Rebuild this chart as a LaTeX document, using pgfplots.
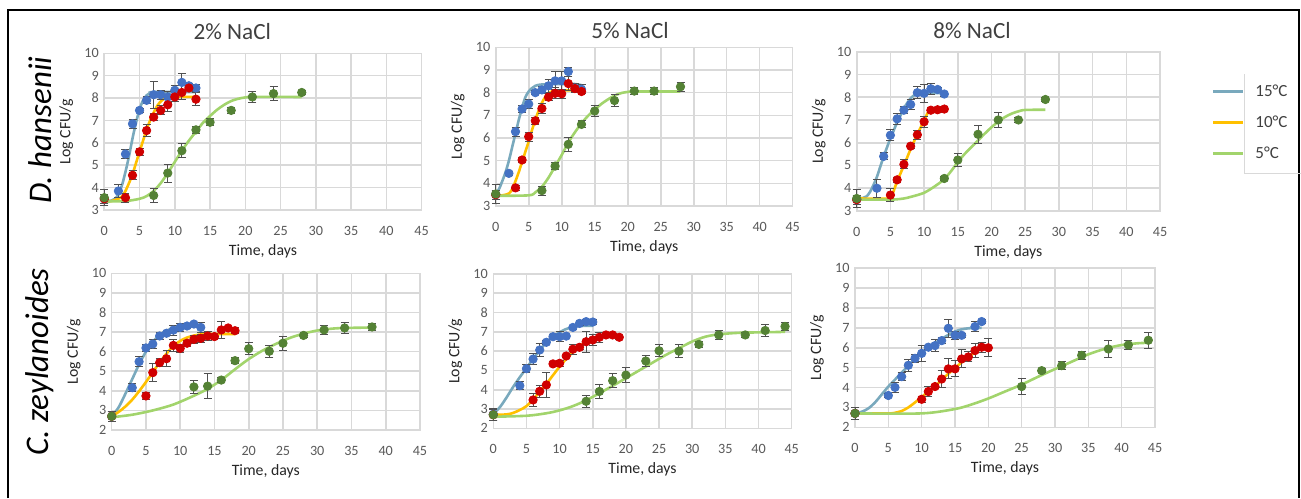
\documentclass[border=0pt]{standalone}
\usepackage{fontspec}
\setmainfont{Carlito}
\usepackage{pgfplots}
\pgfplotsset{compat=1.18}
\definecolor{cB}{HTML}{4472C4}
\definecolor{cR}{HTML}{D00000}
\definecolor{cG}{HTML}{548235}
\definecolor{f15}{HTML}{79A9BD}
\definecolor{f10}{HTML}{FFC000}
\definecolor{f5}{HTML}{A2D46C}
\definecolor{gridc}{HTML}{D9D9D9}
\definecolor{tickc}{HTML}{595959}
\definecolor{labc}{HTML}{404040}
\definecolor{axlab}{HTML}{262626}
\definecolor{errc}{HTML}{505050}
\pgfplotsset{
 panel/.style={scale only axis, anchor=south west, xmin=0, xmax=45, xtick={0,5,...,45},
  ytick distance=1, grid=major, major grid style={draw=gridc, line width=0.8pt},
  axis line style={draw=gridc, line width=0.8pt}, tick style={draw=none},
  ticklabel style={font=\fontsize{7.1}{8}\selectfont, text=tickc},
  /pgf/number format/assume math mode=true,
  xticklabel style={yshift=-4.5pt}, yticklabel style={xshift=0.8pt},
  xlabel={Time, days}, ylabel={Log CFU/g},
  label style={font=\fontsize{7.9}{9}\selectfont, text=axlab},
  x label style={at={(axis description cs:0.5,0)}, anchor=center, yshift=-20.5pt},
  y label style={at={(axis description cs:0,0.5)}, anchor=center, yshift=19pt},
  clip=false},
 fit/.style={no markers, smooth, line width=1.3pt},
 dat/.style={only marks, mark=*, mark size=2.1pt,
  error bars/y dir=both, error bars/y explicit,
  error bars/error bar style={line width=0.5pt, draw=errc},
  error bars/error mark options={rotate=90, mark size=2pt, line width=0.5pt, draw=errc}},
}
\begin{document}
\begin{tikzpicture}
\path[use as bounding box] (0,0) rectangle (650.5pt,-249pt);
\draw[line width=0.75pt] (4pt,-249pt) -- (4pt,-5pt) -- (649.5pt,-5pt) -- (649.5pt,-249pt);
% titles
\node[font=\fontsize{11.6}{13}\selectfont, text=labc] at (116.15pt,-15.85pt) {2\% NaCl};
\node[font=\fontsize{11.6}{13}\selectfont, text=labc] at (315pt,-15.35pt) {5\% NaCl};
\node[font=\fontsize{11.6}{13}\selectfont, text=labc] at (486pt,-15.35pt) {8\% NaCl};
% row labels
\node[rotate=90, font=\fontsize{16.5}{19}\selectfont\itshape] at (20pt,-65pt) {D. hansenii};
\node[rotate=90, font=\fontsize{16.5}{19}\selectfont\itshape] at (20pt,-181pt) {C. zeylanoides};
% legend
\draw[gridc, line width=0.5pt] (622pt,-37pt) -- (622pt,-86.5pt) -- (650.5pt,-86.5pt);
\draw[f15, line width=1.5pt] (606.5pt,-45.5pt) -- (621.5pt,-45.5pt);
\draw[f10, line width=1.5pt] (606.5pt,-61pt) -- (621.5pt,-61pt);
\draw[f5, line width=1.5pt] (606.5pt,-76.5pt) -- (621.5pt,-76.5pt);
\node[anchor=west, font=\fontsize{8.5}{10}\selectfont, text=labc, inner sep=0pt] at (627.5pt,-45.5pt) {15°C};
\node[anchor=west, font=\fontsize{8.5}{10}\selectfont, text=labc, inner sep=0pt] at (627.5pt,-61pt) {10°C};
\node[anchor=west, font=\fontsize{8.5}{10}\selectfont, text=labc, inner sep=0pt] at (627.5pt,-76.5pt) {5°C};

% ---------- Panel 1: D. hansenii 2% ----------
\begin{axis}[panel, at={(52.15pt,-105pt)}, width=158.65pt, height=78.35pt, ymin=3, ymax=10]
\addplot[fit, f15] coordinates {(0,3.4) (1,3.42) (1.5,3.5) (2,3.7) (2.5,4.1) (3,4.7) (3.5,5.4) (4,6.2) (4.5,6.9) (5,7.5) (5.5,7.9) (6,8.12) (6.5,8.22) (7,8.27) (13,8.27)};
\addplot[fit, f10] coordinates {(0,3.4) (1,3.4) (2,3.5) (2.5,3.6) (3,3.85) (3.5,4.2) (4,4.6) (4.5,5.1) (5,5.6) (5.5,6.1) (6,6.6) (6.5,7.0) (7,7.35) (7.5,7.65) (8,7.85) (8.5,7.97) (9,8.03) (10,8.05) (13,8.05)};
\addplot[fit, f5] coordinates {(0,3.38) (3,3.4) (5,3.5) (6,3.62) (7,3.85) (8,4.2) (9,4.65) (10,5.15) (11,5.65) (12,6.1) (13,6.5) (14,6.9) (15,7.2) (16,7.48) (17,7.7) (18,7.87) (19,7.97) (20,8.03) (21,8.05) (28,8.05)};
\addplot[dat, color=cB] coordinates {(0,3.5)+-(0,0.2) (2,3.85)+-(0,0.3) (3,5.5)+-(0,0.2) (4,6.85)+-(0,0.2) (5,7.45)+-(0,0.1) (6,7.9)+-(0,0.15) (7,8.15)+-(0,0.6) (8,8.15)+-(0,0.2) (9,8.05)+-(0,0.25) (10,8.35)+-(0,0.2) (11,8.7)+-(0,0.4) (12,8.55)+-(0,0.1) (13,8.45)+-(0,0.15)};
\addplot[dat, color=cR] coordinates {(0,3.5)+-(0,0.2) (3,3.55)+-(0,0.2) (4,4.55)+-(0,0.2) (5,5.6)+-(0,0.15) (6,6.55)+-(0,0.25) (7,7.15)+-(0,0.15) (8,7.45)+-(0,0.2) (9,7.7)+-(0,0.3) (10,8.05)+-(0,0.2) (11,8.25)+-(0,0.3) (12,8.45)+-(0,0.1) (13,7.95)+-(0,0.3)};
\addplot[dat, color=cG] coordinates {(0,3.55)+-(0,0.35) (7,3.65)+-(0,0.3) (9,4.65)+-(0,0.4) (11,5.65)+-(0,0.3) (13,6.58)+-(0,0.15) (15,6.92)+-(0,0.15) (18,7.45)+-(0,0.15) (21,8.05)+-(0,0.25) (24,8.2)+-(0,0.3) (28,8.25)+-(0,0.1)};
\end{axis}

% ---------- Panel 2: D. hansenii 5% ----------
\begin{axis}[panel, at={(247.85pt,-103pt)}, width=148.5pt, height=79.35pt, ymin=3, ymax=10]
\addplot[fit, f15] coordinates {(0,3.55) (0.5,3.75) (1,4.1) (1.5,4.5) (2,5.0) (2.5,5.6) (3,6.2) (3.5,6.8) (4,7.35) (4.5,7.8) (5,8.05) (5.5,8.2) (6,8.3) (7,8.36) (10,8.38) (12,8.38) (13,8.33)};
\addplot[fit, f10] coordinates {(0,3.45) (1,3.47) (2,3.55) (2.5,3.75) (3,4.1) (3.5,4.5) (4,4.95) (4.5,5.4) (5,5.85) (5.5,6.35) (6,6.8) (6.5,7.2) (7,7.55) (7.5,7.8) (8,7.97) (8.5,8.05) (9,8.1) (13,8.1)};
\addplot[fit, f5] coordinates {(0,3.45) (5,3.47) (6,3.6) (7,3.85) (8,4.25) (9,4.75) (10,5.25) (11,5.8) (12,6.25) (13,6.65) (14,6.98) (15,7.25) (16,7.5) (17,7.7) (18,7.87) (19,7.98) (20,8.03) (21,8.05) (28,8.05)};
\addplot[dat, color=cB] coordinates {(0,3.5)+-(0,0.2) (2,4.44)+-(0,0.1) (3,6.28)+-(0,0.2) (4,7.28)+-(0,0.15) (5,7.5)+-(0,0.2) (6,8.0)+-(0,0.1) (7,8.12)+-(0,0.15) (8,8.3)+-(0,0.3) (9,8.52)+-(0,0.4) (10,8.52)+-(0,0.4) (11,8.93)+-(0,0.2) (12,8.2)+-(0,0.2) (13,8.15)+-(0,0.2)};
\addplot[dat, color=cR] coordinates {(0,3.5)+-(0,0.2) (3,3.8)+-(0,0.1) (4,5.03)+-(0,0.1) (5,6.06)+-(0,0.2) (6,6.76)+-(0,0.15) (7,7.3)+-(0,0.2) (8,7.8)+-(0,0.15) (9,7.97)+-(0,0.25) (10,7.95)+-(0,0.2) (11,8.4)+-(0,0.3) (12,8.18)+-(0,0.15) (13,8.05)+-(0,0.1)};
\addplot[dat, color=cG] coordinates {(0,3.53)+-(0,0.4) (7,3.68)+-(0,0.2) (9,4.76)+-(0,0.15) (11,5.72)+-(0,0.3) (13,6.6)+-(0,0.15) (15,7.19)+-(0,0.25) (18,7.65)+-(0,0.25) (21,8.07)+-(0,0.15) (24,8.07)+-(0,0.15) (28,8.26)+-(0,0.2)};
\end{axis}

% ---------- Panel 3: D. hansenii 8% ----------
\begin{axis}[panel, at={(428.35pt,-105.5pt)}, width=151.65pt, height=79.65pt, ymin=3, ymax=10]
\addplot[fit, f15] coordinates {(0,3.55) (1,3.58) (1.5,3.65) (2,3.85) (2.5,4.15) (3,4.5) (3.5,4.95) (4,5.4) (4.5,5.8) (5,6.2) (5.5,6.55) (6,6.9) (6.5,7.2) (7,7.5) (7.5,7.75) (8,7.95) (8.5,8.08) (9,8.15) (10,8.18) (13,8.18)};
\addplot[fit, f10] coordinates {(0,3.55) (5,3.55) (5.2,3.65) (6,4.3) (7,5.0) (8,5.72) (9,6.38) (10,6.98) (10.5,7.3) (10.8,7.4) (11,7.42) (13,7.42)};
\addplot[fit, f5] coordinates {(0,3.5) (5,3.5) (7,3.55) (8,3.62) (9,3.7) (10,3.8) (11,3.97) (12,4.17) (13,4.4) (14,4.75) (15,5.15) (16,5.5) (17,5.8) (18,6.1) (19,6.4) (20,6.68) (21,6.93) (22,7.13) (23,7.28) (24,7.38) (25,7.44) (28,7.45)};
\addplot[dat, color=cB] coordinates {(0,3.5)+-(0,0.2) (3,4.0)+-(0,0.4) (4,5.4)+-(0,0.15) (5,6.33)+-(0,0.25) (6,7.05)+-(0,0.25) (7,7.43)+-(0,0.15) (8,7.68)+-(0,0.2) (9,8.2)+-(0,0.25) (10,8.17)+-(0,0.4) (11,8.37)+-(0,0.25) (12,8.34)+-(0,0.1) (13,8.14)+-(0,0.1)};
\addplot[dat, color=cR] coordinates {(0,3.5)+-(0,0.2) (5,3.7)+-(0,0.3) (6,4.37)+-(0,0.1) (7,5.05)+-(0,0.2) (8,5.85)+-(0,0.1) (9,6.35)+-(0,0.2) (10,6.92)+-(0,0.25) (11,7.43)+-(0,0.1) (12,7.45)+-(0,0.1) (13,7.48)+-(0,0.1)};
\addplot[dat, color=cG] coordinates {(0,3.55)+-(0,0.4) (13,4.43)+-(0,0.1) (15,5.24)+-(0,0.3) (18,6.37)+-(0,0.4) (21,7.0)+-(0,0.35) (24,7.0)+-(0,0.1) (28,7.9)+-(0,0.1)};
\end{axis}

% ---------- Panel 4: C. zeylanoides 2% ----------
\begin{axis}[panel, at={(55.85pt,-215pt)}, width=154.15pt, height=78.35pt, ymin=2, ymax=10]
\addplot[fit, f15] coordinates {(0,2.7) (1,3.15) (2,3.85) (3,4.6) (4,5.35) (5,6.0) (6,6.5) (7,6.85) (8,7.07) (9,7.2) (10,7.26) (11,7.28) (13,7.28)};
\addplot[fit, f10] coordinates {(0,2.7) (1,2.92) (2,3.2) (3,3.55) (4,3.98) (5,4.45) (6,4.95) (7,5.45) (8,5.9) (9,6.28) (10,6.55) (11,6.72) (12,6.82) (13,6.88) (14,6.9) (18,6.9)};
\addplot[fit, f5] coordinates {(0,2.65) (3,2.78) (6,3.0) (9,3.3) (12,3.75) (14,4.1) (16,4.55) (18,5.1) (20,5.62) (22,6.05) (24,6.4) (26,6.7) (28,6.92) (30,7.08) (32,7.17) (34,7.21) (38,7.23)};
\addplot[dat, color=cB] coordinates {(0,2.7)+-(0,0.25) (3,4.16)+-(0,0.2) (4,5.49)+-(0,0.25) (5,6.19)+-(0,0.2) (6,6.39)+-(0,0.25) (7,6.8)+-(0,0.2) (8,6.94)+-(0,0.1) (9,7.1)+-(0,0.25) (10,7.24)+-(0,0.2) (11,7.31)+-(0,0.15) (12,7.41)+-(0,0.1) (13,7.24)+-(0,0.25)};
\addplot[dat, color=cR] coordinates {(0,2.7)+-(0,0.25) (5,3.74)+-(0,0.2) (6,4.93)+-(0,0.45) (7,5.44)+-(0,0.2) (8,5.64)+-(0,0.4) (9,6.32)+-(0,0.3) (10,6.17)+-(0,0.2) (11,6.43)+-(0,0.15) (12,6.63)+-(0,0.2) (13,6.68)+-(0,0.2) (14,6.8)+-(0,0.25) (15,6.77)+-(0,0.1) (16,7.11)+-(0,0.45) (17,7.21)+-(0,0.1) (18,7.07)+-(0,0.15)};
\addplot[dat, color=cG] coordinates {(0,2.7)+-(0,0.25) (12,4.2)+-(0,0.35) (14,4.24)+-(0,0.65) (16,4.55)+-(0,0.15) (18,5.54)+-(0,0.15) (20,6.15)+-(0,0.3) (23,6.02)+-(0,0.3) (25,6.43)+-(0,0.35) (28,6.83)+-(0,0.1) (31,7.11)+-(0,0.25) (34,7.21)+-(0,0.3) (38,7.26)+-(0,0.2)};
\end{axis}

% ---------- Panel 5: C. zeylanoides 5% ----------
\begin{axis}[panel, at={(246.65pt,-214.15pt)}, width=149.2pt, height=77.15pt, ymin=2, ymax=10]
\addplot[fit, f15] coordinates {(0,2.75) (1,3.1) (2,3.6) (3,4.15) (4,4.65) (5,5.12) (6,5.6) (7,6.05) (8,6.45) (9,6.75) (10,6.98) (11,7.15) (12,7.25) (13,7.3) (15,7.32)};
\addplot[fit, f10] coordinates {(0,2.7) (2,2.72) (3,2.8) (4,2.95) (5,3.15) (6,3.5) (7,3.9) (8,4.3) (9,4.75) (10,5.2) (11,5.6) (12,5.95) (13,6.25) (14,6.48) (15,6.63) (16,6.73) (17,6.79) (18,6.82)};
\addplot[fit, f5] coordinates {(0,2.6) (5,2.65) (8,2.78) (10,2.93) (12,3.15) (14,3.45) (16,3.82) (18,4.2) (20,4.6) (22,5.0) (24,5.4) (26,5.8) (28,6.15) (30,6.5) (32,6.75) (34,6.87) (37,6.95) (41,6.98) (44,7.0)};
\addplot[dat, color=cB] coordinates {(0,2.73)+-(0,0.3) (4,4.21)+-(0,0.2) (5,5.09)+-(0,0.2) (6,5.59)+-(0,0.3) (7,6.06)+-(0,0.35) (8,6.46)+-(0,0.1) (9,6.75)+-(0,0.1) (10,6.75)+-(0,0.25) (11,6.78)+-(0,0.1) (12,7.23)+-(0,0.1) (13,7.44)+-(0,0.1) (14,7.53)+-(0,0.1) (15,7.51)+-(0,0.15)};
\addplot[dat, color=cR] coordinates {(0,2.7)+-(0,0.3) (6,3.47)+-(0,0.35) (7,3.92)+-(0,0.3) (8,4.25)+-(0,0.65) (9,5.34)+-(0,0.1) (10,5.37)+-(0,0.15) (11,5.75)+-(0,0.1) (12,6.1)+-(0,0.25) (13,6.2)+-(0,0.1) (14,6.49)+-(0,0.55) (15,6.58)+-(0,0.3) (16,6.72)+-(0,0.25) (17,6.84)+-(0,0.1) (18,6.84)+-(0,0.1) (19,6.72)+-(0,0.1)};
\addplot[dat, color=cG] coordinates {(0,2.7)+-(0,0.3) (14,3.4)+-(0,0.3) (16,3.91)+-(0,0.35) (18,4.47)+-(0,0.35) (20,4.76)+-(0,0.4) (23,5.49)+-(0,0.3) (25,6.02)+-(0,0.3) (28,6.0)+-(0,0.35) (31,6.35)+-(0,0.15) (34,6.84)+-(0,0.25) (38,6.84)+-(0,0.15) (41,7.07)+-(0,0.3) (44,7.28)+-(0,0.2)};
\end{axis}

% ---------- Panel 6: C. zeylanoides 8% ----------
\begin{axis}[panel, at={(427.5pt,-213.65pt)}, width=150pt, height=79.5pt, ymin=2, ymax=10]
\addplot[fit, f15] coordinates {(0,2.7) (1,2.78) (2,2.95) (3,3.25) (4,3.65) (5,4.05) (6,4.4) (7,4.75) (8,5.1) (9,5.45) (10,5.75) (11,6.02) (12,6.25) (13,6.45) (14,6.65) (15,6.82) (16,6.93) (17,6.98) (18,7.0) (19,7.0)};
\addplot[fit, f10] coordinates {(0,2.7) (5,2.7) (6,2.73) (7,2.82) (8,3.0) (9,3.25) (10,3.52) (11,3.8) (12,4.07) (13,4.37) (14,4.7) (15,4.98) (16,5.27) (17,5.53) (18,5.78) (19,5.97) (20,6.08)};
\addplot[fit, f5] coordinates {(0,2.7) (10,2.7) (15,2.92) (17.5,3.15) (20,3.45) (22.5,3.8) (25,4.15) (27.5,4.55) (30,4.93) (32.5,5.3) (35,5.67) (37.5,5.95) (40,6.14) (42.5,6.23) (44,6.25)};
\addplot[dat, color=cB] coordinates {(0,2.7)+-(0,0.3) (5,3.6)+-(0,0.1) (6,4.01)+-(0,0.25) (7,4.55)+-(0,0.2) (8,5.12)+-(0,0.3) (9,5.47)+-(0,0.2) (10,5.72)+-(0,0.4) (11,6.03)+-(0,0.1) (12,6.11)+-(0,0.3) (13,6.36)+-(0,0.15) (14,6.98)+-(0,0.45) (15,6.63)+-(0,0.2) (16,6.63)+-(0,0.1) (18,7.07)+-(0,0.25) (19,7.32)+-(0,0.1)};
\addplot[dat, color=cR] coordinates {(0,2.7)+-(0,0.3) (10,3.41)+-(0,0.15) (11,3.8)+-(0,0.25) (12,4.05)+-(0,0.1) (13,4.43)+-(0,0.45) (14,4.94)+-(0,0.5) (15,4.94)+-(0,0.4) (16,5.44)+-(0,0.45) (17,5.54)+-(0,0.25) (18,5.86)+-(0,0.35) (19,6.03)+-(0,0.25) (20,6.0)+-(0,0.45)};
\addplot[dat, color=cG] coordinates {(0,2.7)+-(0,0.3) (25,4.05)+-(0,0.4) (28,4.85)+-(0,0.1) (31,5.1)+-(0,0.2) (34,5.62)+-(0,0.2) (38,5.94)+-(0,0.45) (41,6.14)+-(0,0.25) (44,6.38)+-(0,0.4)};
\end{axis}
\end{tikzpicture}
\end{document}
